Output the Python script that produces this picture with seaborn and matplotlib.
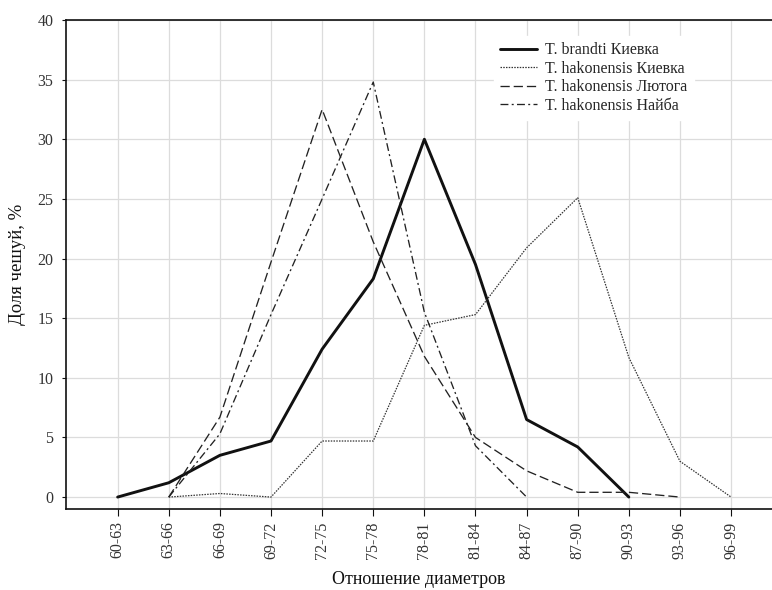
import numpy as np
import pandas as pd
import matplotlib
matplotlib.use("Agg")
import matplotlib.pyplot as plt
import seaborn as sns

# Size classes of the diameter ratio
categories = ["60-63", "63-66", "66-69", "69-72", "72-75", "75-78", "78-81",
              "81-84", "84-87", "87-90", "90-93", "93-96", "96-99"]

# Share of scales per class, % (NaN where a sample has no class)
brandti_kievka = [0.0, 1.2, 3.5, 4.7, 12.4, 18.3, 30.0, 19.5, 6.5, 4.2, 0.0,
                  np.nan, np.nan]
hakonensis_kievka = [np.nan, 0.0, 0.3, 0.0, 4.7, 4.7, 14.4, 15.3, 20.9, 25.1,
                     11.7, 3.0, 0.0]
hakonensis_lyutoga = [np.nan, 0.0, 6.7, 19.7, 32.5, 21.4, 11.8, 5.0, 2.2, 0.4,
                      0.4, 0.0, np.nan]
hakonensis_naiba = [np.nan, 0.0, 5.3, 15.3, 25.0, 34.8, 15.5, 4.3, 0.0, np.nan,
                    np.nan, np.nan, np.nan]

series_names = ["T. brandti Киевка", "T. hakonensis Киевка",
                "T. hakonensis Лютога", "T. hakonensis Найба"]
series_values = [brandti_kievka, hakonensis_kievka, hakonensis_lyutoga,
                 hakonensis_naiba]

yticks = [0, 5, 10, 15, 20, 25, 30, 35, 40]

frames = []
for name, vals in zip(series_names, series_values):
    frames.append(pd.DataFrame({"pos": np.arange(len(categories)),
                                "share": vals, "series": name}))
df = pd.concat(frames, ignore_index=True).dropna()

sns.set_theme(style="whitegrid")
plt.rcParams["font.family"] = ["Liberation Serif", "DejaVu Serif"]
plt.rcParams["font.size"] = 11

fig = plt.figure(figsize=(7.72, 5.90), dpi=100)
ax = fig.add_axes([66 / 772, (590 - 509) / 590, 1 - 66 / 772, (509 - 20) / 590])

line_styles = {
    "T. brandti Киевка": dict(color="#111111", linewidth=2.1, linestyle="-"),
    "T. hakonensis Киевка": dict(color="#333333", linewidth=0.9,
                                 linestyle=(0, (1.2, 1.0))),
    "T. hakonensis Лютога": dict(color="#222222", linewidth=0.95,
                                 linestyle=(0, (7, 3))),
    "T. hakonensis Найба": dict(color="#222222", linewidth=0.95,
                                linestyle=(0, (6, 2.5, 1.5, 2.5))),
}

for name in series_names:
    sub = df[df["series"] == name]
    sns.lineplot(data=sub, x="pos", y="share", ax=ax, label=name,
                 **line_styles[name])

ax.set_xlim(-1.01, 12.8)
ax.set_ylim(-1, 40)
ax.set_xticks(np.arange(len(categories)))
ax.set_xticklabels(categories, rotation=90, fontsize=11.5)
ax.set_yticks(yticks)
ax.set_yticklabels([str(t) for t in yticks], fontsize=11.5)

ax.grid(True, color="#dcdcdc", linewidth=0.9)
ax.set_axisbelow(True)
ax.set_facecolor("white")
for side in ["left", "bottom", "top"]:
    ax.spines[side].set_visible(True)
    ax.spines[side].set_color("#111111")
    ax.spines[side].set_linewidth(1.2)
ax.spines["right"].set_visible(False)

ax.tick_params(axis="x", which="both", bottom=True, length=5, width=0.8,
               color="#111111", pad=4, labelcolor="#333333")
ax.tick_params(axis="y", which="both", left=True, length=3, width=0.8,
               color="#111111", pad=6, labelcolor="#333333")

ax.set_xlabel("Отношение диаметров", fontsize=13, labelpad=9, color="#111111")
ax.set_ylabel("Доля чешуй, %", fontsize=13.5, labelpad=8, color="#111111")

leg = ax.legend(loc="upper left", bbox_to_anchor=(494 / 772, 1 - 36 / 590),
                bbox_transform=fig.transFigure, borderaxespad=0,
                frameon=True, fancybox=False, framealpha=1.0,
                edgecolor="white", facecolor="white", fontsize=11.5,
                handlelength=2.3, handletextpad=0.5, labelspacing=0.15,
                borderpad=0.4)

fig.savefig("out.png", dpi=100)
